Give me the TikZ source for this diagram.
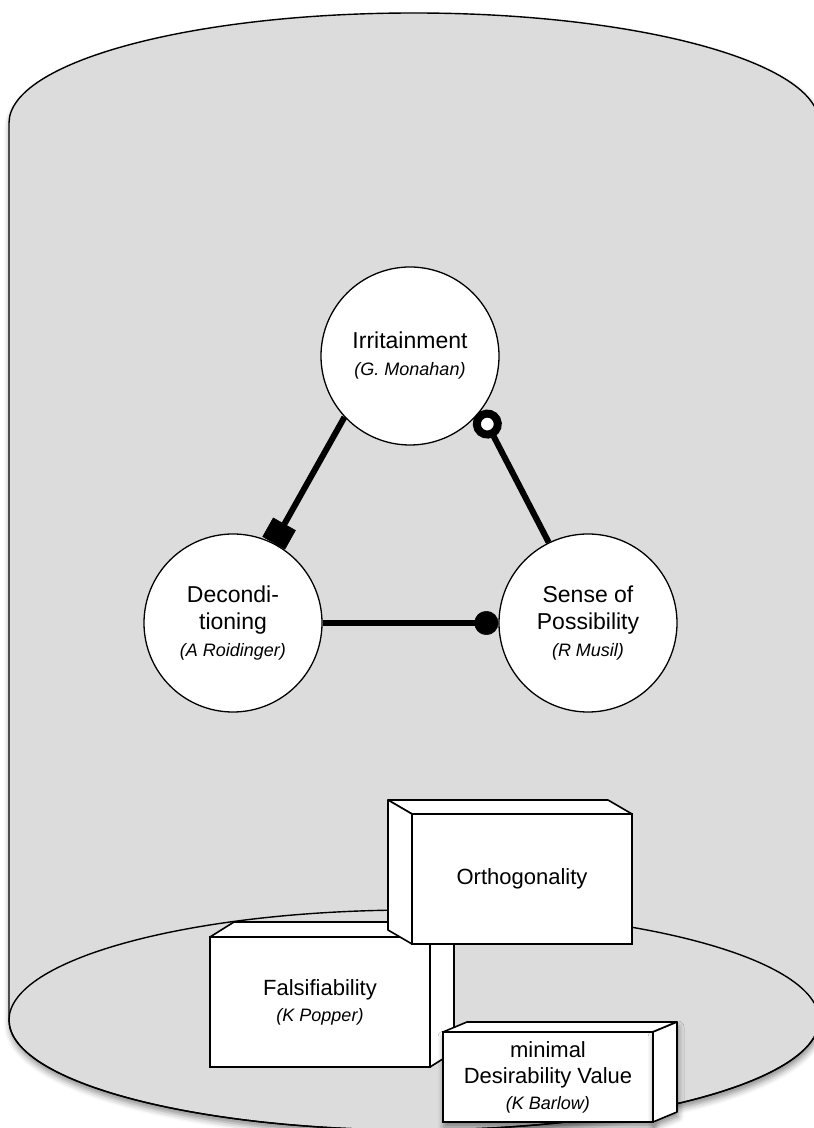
\documentclass[tikz,border=0pt]{standalone}
\usepackage{fontspec}
\setmainfont{Liberation Sans}
\usetikzlibrary{arrows.meta, shadows.blur}
\definecolor{tankgray}{HTML}{DCDCDC}
\newcommand{\who}[1]{{\fontsize{18}{24}\selectfont\itshape #1}}

\begin{document}
\begin{tikzpicture}[
    x=1pt, y=1pt,
    idea/.style={circle, draw, fill=white, line width=1.3pt, minimum size=178pt, inner sep=0pt, align=center, font=\fontsize{23}{27}\selectfont},
    block/.style={rectangle, draw, fill=white, line width=1.6pt, inner sep=0pt, outer sep=0pt, align=center, font=\fontsize{22}{26}\selectfont},
    face/.style={draw, fill=white, line width=1.6pt, line join=round},
    link/.style={line width=6pt, draw=black},
    soft/.style={blur shadow={shadow xshift=1pt, shadow yshift=-5pt, shadow blur radius=6pt, shadow opacity=45}},
]
\useasboundingbox (0,0) rectangle (814,1128);

% Tank
\path[fill=tankgray, draw=black, line width=1.4pt, soft] (9,1005) arc[start angle=180, end angle=0, x radius=405pt, y radius=110pt] -- (819,108) arc[start angle=0, end angle=-180, x radius=405pt, y radius=110pt] -- cycle;
\draw[line width=1.4pt] (414,108) ellipse[x radius=405pt, y radius=110pt];

% Ideas
\node[idea] (irr) at (410,772) {Irritainment\\\who{(G. Monahan)}};
\node[idea] (decon) at (233,505) {Decondi-\\tioning\\\who{(A Roidinger)}};
\node[idea] (sense) at (588,505) {Sense of\\Possibility\\\who{(R Musil)}};

% Links
\draw[link, -{Square[length=22pt, width=26pt, line width=0.5pt, fill=black, color=black]}] (irr.223) -- (decon.63);
\draw[link, {Circle[length=29pt, line width=8pt, fill=white, color=black]}-] (irr.322) -- (sense.116);
\draw[link, -{Circle[length=24pt, line width=0.5pt, fill=black, color=black]}] (decon.east) -- (sense.west);

% Blocks
\node[block, minimum width=220pt, minimum height=130pt] (falsif) at (320,126) {Falsifiability\\\who{(K Popper)}};
\draw[face] (falsif.north west) -- ++(24,15) -- ++(220,0) -- (falsif.north east) -- cycle;
\draw[face] (falsif.north east) -- ++(24,15) -- ++(0,-130) -- (falsif.south east) -- cycle;

\node[block, minimum width=220pt, minimum height=130pt] (ortho) at (522,249) {Orthogonality};
\draw[face] (ortho.north west) -- ++(-24,14) -- ++(220,0) -- (ortho.north east) -- cycle;
\draw[face] (ortho.north west) -- ++(-24,14) -- ++(0,-130) -- (ortho.south west) -- cycle;

\node[block, soft, minimum width=210pt, minimum height=90pt] (minimal) at (548,51) {minimal\\Desirability Value\\\who{(K Barlow)}};
\draw[face] (minimal.north west) -- ++(24,10) -- ++(210,0) -- (minimal.north east) -- cycle;
\draw[face, soft] (minimal.north east) -- ++(24,10) -- ++(0,-90) -- (minimal.south east) -- cycle;

\end{tikzpicture}
\end{document}
